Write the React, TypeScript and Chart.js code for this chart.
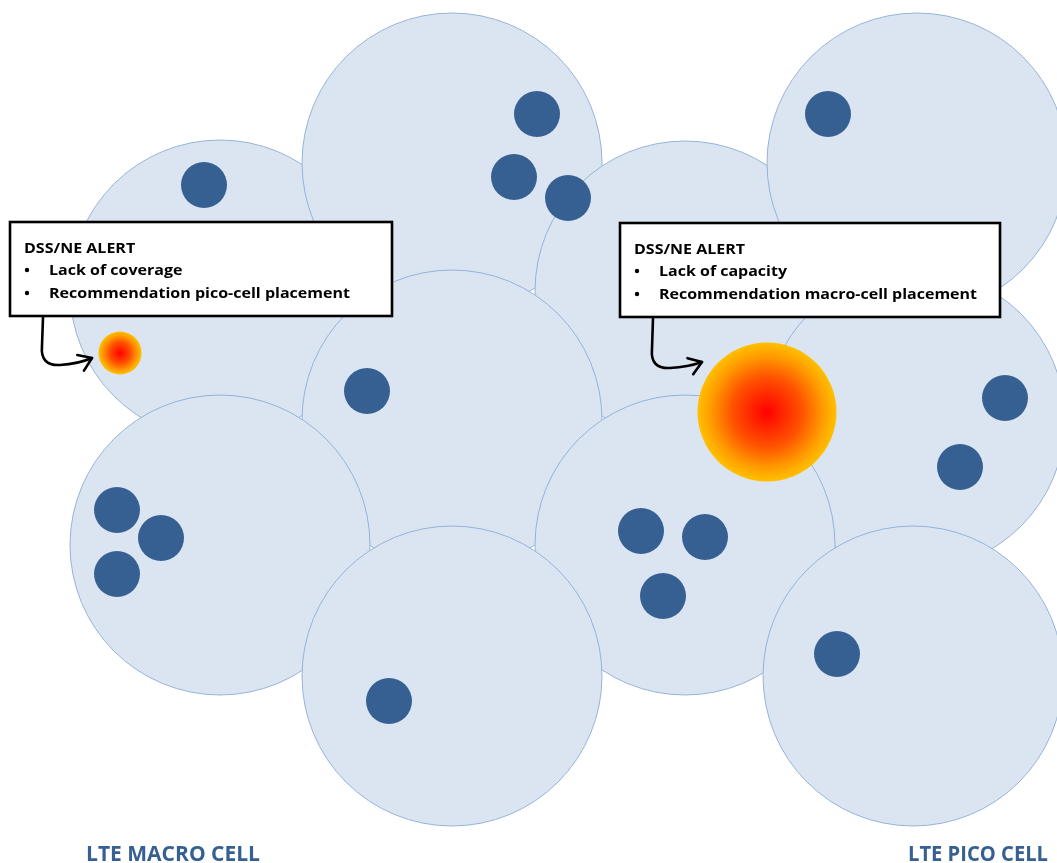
import React, { useEffect, useRef } from "react";
import { Chart, registerables } from "chart.js";

Chart.register(...registerables);

const W = 1057;
const H = 863;

// LTE macro cells (listed bottom-most first = drawing order)
const cellX = [220, 452, 685, 917, 915, 452, 220, 685, 452, 913];
const cellY = [290, 163, 291, 163, 420, 420, 545, 545, 676, 676];
const cellR = [150, 150, 150, 150, 150, 150, 150, 150, 150, 150];

// LTE pico cells
const picoX = [537, 514, 568, 204, 828, 367, 1005, 960, 117, 161, 117, 641, 705, 663, 837, 389];
const picoY = [114, 177, 198, 185, 114, 391, 398, 467, 510, 538, 574, 531, 537, 596, 654, 701];
const picoR = [23, 23, 23, 23, 23, 23, 23, 23, 23, 23, 23, 23, 23, 23, 23, 23];

// Alert hot spots
const hotX = [120, 767];
const hotY = [353, 412];
const hotR = [21.5, 69.5];

// Alert call-outs
const alertTitle = "DSS/NE ALERT";
const alertItemsLeft = ["Lack of coverage", "Recommendation pico-cell placement"];
const alertItemsRight = ["Lack of capacity", "Recommendation macro-cell placement"];
const alertBoxLeft = [10, 222, 392, 316];
const alertBoxRight = [620, 223, 1000, 317];
const arrowLeft = [[43, 317], [42, 346], [40, 366], [60, 365], [78, 364], [92, 358]];
const arrowRight = [[653, 318], [652, 349], [650, 369], [670, 368], [688, 367], [702, 362]];

// Bottom labels
const bottomLabels = ["LTE MACRO CELL", "LTE PICO CELL"];
const bottomLabelX = [86, 908];
const bottomLabelW = [174, 140];
const bottomLabelY = 861;

const FONT = '"Open Sans", "Liberation Sans", sans-serif';

function toPts(raw: number[][], xs: any, ys: any) {
  return raw.map((p) => [xs.getPixelForValue(p[0]), ys.getPixelForValue(p[1])]);
}

const overlayPlugin = {
  id: "overlay",
  afterDraw(chart: any) {
    const ctx: CanvasRenderingContext2D = chart.ctx;
    const xs = chart.scales.x;
    const ys = chart.scales.y;

    const drawArrow = (raw: number[][]) => {
      const p = toPts(raw, xs, ys);
      ctx.save();
      ctx.strokeStyle = "#000";
      ctx.lineWidth = 2.6;
      ctx.lineCap = "round";
      ctx.lineJoin = "round";
      ctx.beginPath();
      ctx.moveTo(p[0][0], p[0][1]);
      ctx.lineTo(p[1][0], p[1][1]);
      ctx.quadraticCurveTo(p[2][0], p[2][1], p[3][0], p[3][1]);
      ctx.quadraticCurveTo(p[4][0], p[4][1], p[5][0], p[5][1]);
      ctx.stroke();
      const ang = Math.atan2(p[5][1] - p[4][1], p[5][0] - p[4][0]);
      const len = 15;
      const spread = 0.6;
      ctx.beginPath();
      ctx.moveTo(p[5][0] - len * Math.cos(ang - spread), p[5][1] - len * Math.sin(ang - spread));
      ctx.lineTo(p[5][0], p[5][1]);
      ctx.lineTo(p[5][0] - len * Math.cos(ang + spread), p[5][1] - len * Math.sin(ang + spread));
      ctx.stroke();
      ctx.restore();
    };

    const drawBox = (box: number[], items: string[], targetW: number) => {
      const x0 = xs.getPixelForValue(box[0]);
      const y0 = ys.getPixelForValue(box[1]);
      const x1 = xs.getPixelForValue(box[2]);
      const y1 = ys.getPixelForValue(box[3]);
      ctx.save();
      ctx.fillStyle = "#fff";
      ctx.fillRect(x0, y0, x1 - x0, y1 - y0);
      ctx.strokeStyle = "#000";
      ctx.lineWidth = 2.6;
      ctx.strokeRect(x0, y0, x1 - x0, y1 - y0);
      ctx.fillStyle = "#000";
      ctx.textBaseline = "alphabetic";
      ctx.font = `bold 15px ${FONT}`;
      const longest = Math.max(...items.map((t) => ctx.measureText(t).width));
      const sx = targetW / longest;
      const tx = x0 + 14;
      const ix = x0 + 39;
      const lines = [y0 + 31, y0 + 53, y0 + 76];
      const draw = (t: string, x: number, y: number) => {
        ctx.save();
        ctx.translate(x, y);
        ctx.scale(sx, 1);
        ctx.fillText(t, 0, 0);
        ctx.restore();
      };
      draw(alertTitle, tx, lines[0]);
      items.forEach((t, i) => {
        ctx.beginPath();
        ctx.arc(tx + 3, lines[i + 1] - 5, 2.2, 0, Math.PI * 2);
        ctx.fill();
        draw(t, ix, lines[i + 1]);
      });
      ctx.restore();
    };

    drawBox(alertBoxLeft, alertItemsLeft, 301);
    drawBox(alertBoxRight, alertItemsRight, 318);
    drawArrow(arrowLeft);
    drawArrow(arrowRight);

    ctx.save();
    ctx.fillStyle = "#376092";
    ctx.font = `bold 22px ${FONT}`;
    ctx.textBaseline = "alphabetic";
    bottomLabels.forEach((t, i) => {
      const w = ctx.measureText(t).width;
      const sx = bottomLabelW[i] / w;
      ctx.save();
      ctx.translate(xs.getPixelForValue(bottomLabelX[i]), ys.getPixelForValue(bottomLabelY));
      ctx.scale(sx, 1);
      ctx.fillText(t, 0, 0);
      ctx.restore();
    });
    ctx.restore();
  },
};

export default function App() {
  const ref = useRef<HTMLCanvasElement | null>(null);

  useEffect(() => {
    if (!ref.current) return;
    const cells = cellX.map((x, i) => ({ x, y: cellY[i], r: cellR[i] }));
    const picos = picoX.map((x, i) => ({ x, y: picoY[i], r: picoR[i] }));
    const hots = hotX.map((x, i) => ({ x, y: hotY[i], r: hotR[i] }));

    const chart = new Chart(ref.current, {
      type: "bubble",
      data: {
        datasets: [
          {
            label: "Alerts",
            data: hots,
            order: 0,
            clip: false,
            borderWidth: 0,
            backgroundColor: (c: any) => {
              const chart = c.chart;
              const raw = c.raw;
              if (!raw || !chart.scales || !chart.scales.x || !chart.scales.y) return "#ff6000";
              const cx = chart.scales.x.getPixelForValue(raw.x);
              const cy = chart.scales.y.getPixelForValue(raw.y);
              if (!Number.isFinite(cx) || !Number.isFinite(cy) || !Number.isFinite(raw.r)) return "#ff6000";
              const g = chart.ctx.createRadialGradient(cx, cy, 0, cx, cy, raw.r);
              g.addColorStop(0, "#ff0000");
              g.addColorStop(0.5, "#ff5200");
              g.addColorStop(0.8, "#ff9a00");
              g.addColorStop(1, "#ffc000");
              return g;
            },
          } as any,
          {
            label: "LTE pico cells",
            data: picos,
            order: 1,
            clip: false,
            borderWidth: 0,
            backgroundColor: "#376092",
          } as any,
          {
            label: "LTE macro cells",
            data: cells,
            order: 2,
            clip: false,
            borderWidth: 1,
            borderColor: "#95b3d7",
            backgroundColor: "#dbe5f1",
          } as any,
        ],
      },
      options: {
        responsive: false,
        animation: false,
        events: [],
        layout: { padding: 0, autoPadding: false },
        plugins: {
          legend: { display: false },
          tooltip: { enabled: false },
        },
        scales: {
          x: { type: "linear", min: 0, max: W, display: false },
          y: { type: "linear", min: 0, max: H, reverse: true, display: false },
        },
      },
      plugins: [overlayPlugin],
    });
    return () => chart.destroy();
  }, []);

  return (
    <div style={{ position: "fixed", left: 0, top: 0, width: W, height: H, background: "#fff" }}>
      <canvas ref={ref} width={W} height={H} style={{ display: "block" }} />
    </div>
  );
}
